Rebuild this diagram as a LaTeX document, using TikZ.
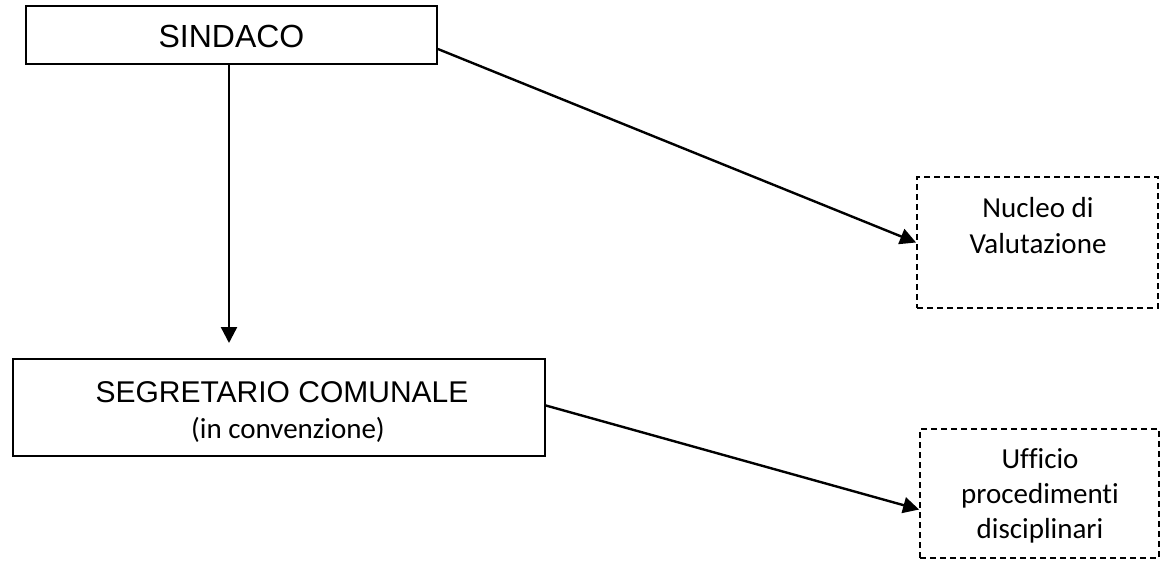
\documentclass[tikz,border=0pt]{standalone}
\usepackage{fontspec}
\setmainfont{Carlito}[Ligatures=NoCommon]
\newfontfamily\arialf{Liberation Sans}
\usetikzlibrary{arrows.meta}
\begin{document}
\begin{tikzpicture}[x=1pt,y=-1pt,
  solidbox/.style={draw=black,line width=1.8pt,inner sep=0pt},
  dashbox/.style={draw=black,line width=1.8pt,inner sep=0pt,dash pattern=on 6pt off 4pt},
  arialtxt/.style={font=\arialf\fontsize{30}{35}\selectfont,anchor=base,inner sep=0pt},
  calitxt/.style={font=\fontsize{29}{35}\selectfont,anchor=base,inner sep=0pt},
  arr/.style={draw=black,line width=2.4pt,-{Triangle[length=16pt,width=16pt]}}]
\useasboundingbox (0,0) rectangle (1160,560);
% boxes
\node[solidbox,minimum width=411pt,minimum height=58pt] (sind) at (231.5,35) {};
\node[solidbox,minimum width=532pt,minimum height=97pt] (seg) at (279,407.5) {};
\node[dashbox,minimum width=241pt,minimum height=131pt] (nuc) at (1037.5,242.5) {};
\node[dashbox,minimum width=239pt,minimum height=129pt] (uff) at (1039.5,493.5) {};
% texts
\node[arialtxt,font=\arialf\fontsize{32}{35}\selectfont] (t1) at (231.5,47) {SINDACO};
\node[arialtxt] (t2) at (282,402) {SEGRETARIO COMUNALE};
\node[calitxt] (t3) at (288,438) {(in convenzione)};
\node[calitxt] (t4) at (1038,217) {Nucleo di};
\node[calitxt] (t5) at (1038,253) {Valutazione};
\node[calitxt] (t6) at (1040,468) {Ufficio};
\node[calitxt] (t7) at (1040,503) {procedimenti};
\node[calitxt] (t8) at (1040,538) {disciplinari};
% connectors
\coordinate (segtop) at (229,343);
\draw[arr] ([xshift=-2.5pt]sind.south) -- (segtop);
\draw[arr] ([yshift=-14pt]sind.east) -- (nuc.west);
\draw[arr] ([yshift=2pt]seg.east) -- ([yshift=-16pt]uff.west);
\end{tikzpicture}
\end{document}
